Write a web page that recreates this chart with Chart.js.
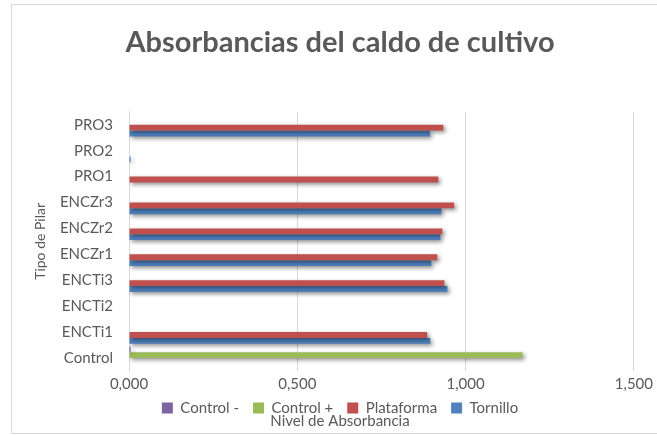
<!DOCTYPE html>
<html lang="es">
<head>
    <meta charset="UTF-8">
    <title>Absorbancias del caldo de cultivo</title>
    <script src="https://cdn.jsdelivr.net/npm/chart.js"></script>
    <style>
        body { margin: 0; background: #fff; }
        #wrap { width: 657px; height: 435px; }
    </style>
</head>
<body>
    <div id="wrap"><canvas id="absChart"></canvas></div>

    <script>
        // Datos
        const categories = ['Control', 'ENCTi1', 'ENCTi2', 'ENCTi3', 'ENCZr1', 'ENCZr2', 'ENCZr3', 'PRO1', 'PRO2', 'PRO3'];
        const controlNeg = [0.005, null, null, null, null, null, null, null, null, null];
        const controlPos = [1.169, null, null, null, null, null, null, null, null, null];
        const plataforma = [null, 0.886, null, 0.937, 0.916, 0.931, 0.966, 0.919, null, 0.934];
        const tornillo = [null, 0.895, null, 0.946, 0.898, 0.925, 0.928, null, 0.005, 0.894];
        const xTicks = [0, 0.5, 1.0, 1.5];

        const grey = '#595959';
        const font = 'Lato';

        // sombra tipo Excel bajo las barras
        const shadowPlugin = {
            id: 'barShadow',
            beforeDatasetsDraw(chart) {
                const c = chart.ctx;
                c.save();
                c.shadowColor = 'rgba(0,0,0,0.45)';
                c.shadowBlur = 4;
                c.shadowOffsetX = 2;
                c.shadowOffsetY = 2;
            },
            afterDatasetsDraw(chart) {
                chart.ctx.restore();
            }
        };

        // el eje x ocupa poco sitio en el layout, pero sus etiquetas no se recortan
        const xLabelRoom = {
            id: 'xLabelRoom',
            afterLayout(chart) {
                const x = chart.scales.x;
                x.bottom = x.top + 26;
                x.height = 26;
            }
        };

        // borde del area del grafico
        const borderPlugin = {
            id: 'chartBorder',
            afterDraw(chart) {
                const c = chart.ctx;
                c.save();
                c.strokeStyle = '#d9d9d9';
                c.lineWidth = 1;
                c.strokeRect(11.5, 4.5, 700, 429);
                c.restore();
            }
        };

        const fmt = v => v.toFixed(3).replace('.', ',');

        new Chart(document.getElementById('absChart'), {
            type: 'bar',
            data: {
                labels: categories,
                datasets: [
                    { label: 'Control -', data: controlNeg, backgroundColor: '#8064A2' },
                    { label: 'Control +', data: controlPos, backgroundColor: '#9BBB59' },
                    { label: 'Plataforma', data: plataforma, backgroundColor: '#C0504D' },
                    { label: 'Tornillo', data: tornillo, backgroundColor: '#4F81BD' }
                ]
            },
            options: {
                indexAxis: 'y',
                responsive: true,
                maintainAspectRatio: false,
                animation: false,
                categoryPercentage: 0.9,
                barPercentage: 1.0,
                layout: { padding: { left: 28, right: 5, top: 4, bottom: 5 } },
                scales: {
                    x: {
                        min: 0,
                        max: 1.5,
                        afterBuildTicks(scale) {
                            scale.ticks = xTicks.map(v => ({ value: v }));
                        },
                        afterFit(scale) { scale.height = 15.5; },
                        ticks: {
                            callback: v => fmt(v),
                            color: grey,
                            font: { family: font, size: 15 },
                            padding: 4
                        },
                        grid: { color: '#d9d9d9', drawTicks: false },
                        border: { display: false }
                    },
                    y: {
                        reverse: true,
                        afterFit(scale) { scale.width = 101; },
                        ticks: {
                            color: grey,
                            font: { family: font, size: 15 },
                            padding: 16
                        },
                        grid: { display: false, drawTicks: false },
                        border: { display: true, color: '#d9d9d9' },
                        title: {
                            display: true,
                            text: 'Tipo de Pilar',
                            color: grey,
                            font: { family: font, size: 14 }
                        }
                    }
                },
                plugins: {
                    title: {
                        display: true,
                        text: 'Absorbancias del caldo de cultivo',
                        color: grey,
                        font: { family: font, size: 29, weight: 'bold' },
                        padding: { top: 21, bottom: 52 }
                    },
                    subtitle: {
                        display: true,
                        position: 'bottom',
                        text: 'Nivel de Absorbancia',
                        color: grey,
                        font: { family: font, size: 15 },
                        padding: { top: -13.5, bottom: 0 }
                    },
                    legend: {
                        position: 'bottom',
                        labels: {
                            color: grey,
                            font: { family: font, size: 15 },
                            boxWidth: 11,
                            boxHeight: 11,
                            padding: 14
                        }
                    },
                    tooltip: { enabled: false }
                }
            },
            plugins: [shadowPlugin, xLabelRoom, borderPlugin]
        });
    </script>
</body>
</html>
